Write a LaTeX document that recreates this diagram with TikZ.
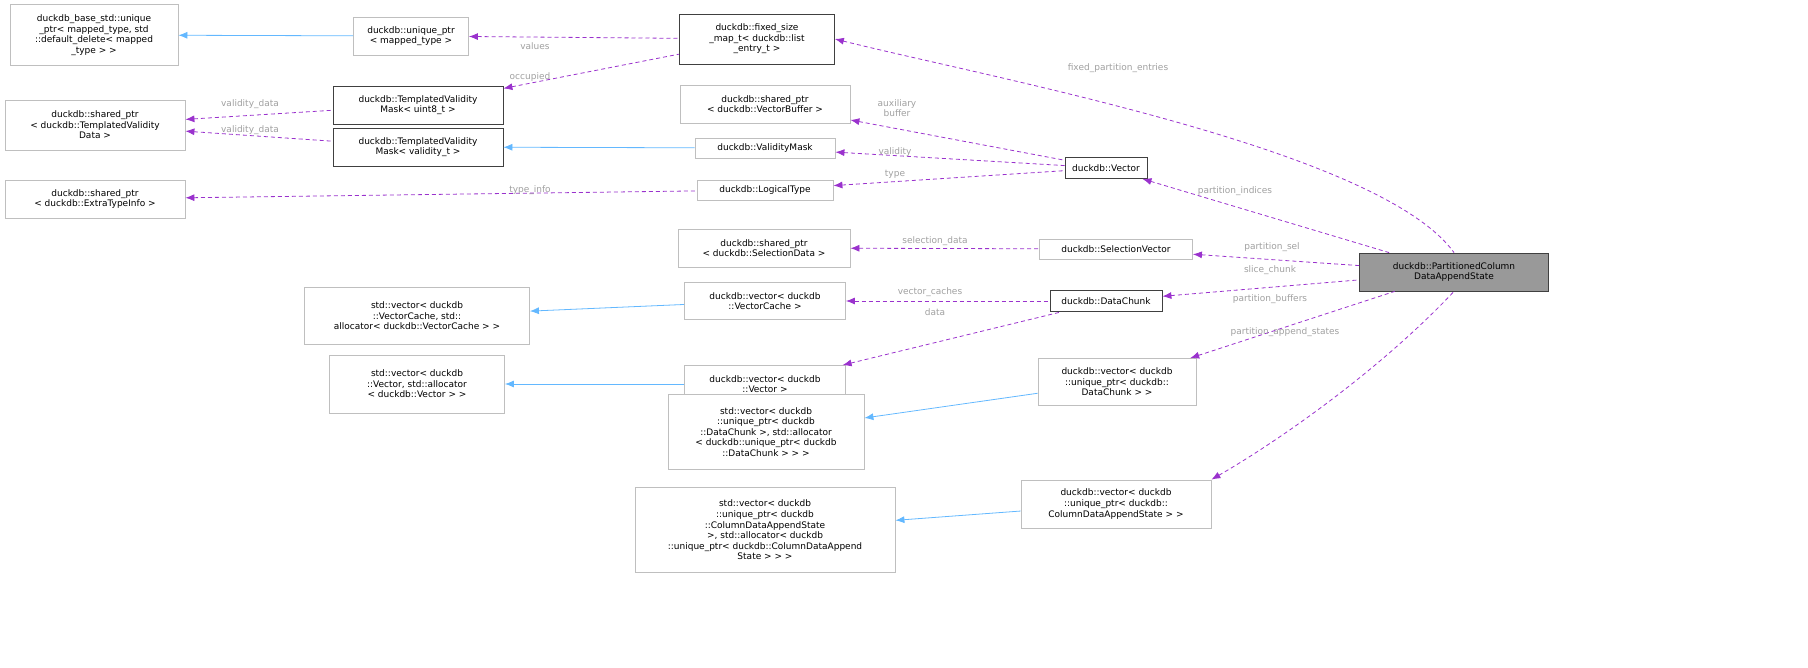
\documentclass[tikz,border=0pt]{standalone}
\usepackage{fontspec}
\setmainfont{DejaVu Sans}
\usetikzlibrary{arrows.meta}
\definecolor{edgeP}{HTML}{9A32CD}
\definecolor{edgeB}{HTML}{63B8FF}
\definecolor{lblc}{HTML}{A0A0A0}
\definecolor{boxg}{HTML}{BFBFBF}
\definecolor{boxd}{HTML}{404040}
\tikzset{
 box/.style={draw=boxg,line width=0.8pt,align=center,inner sep=0pt,font=\fontsize{9}{10.6}\selectfont,fill=white},
 dbox/.style={box,draw=boxd},
 mbox/.style={box,draw=boxd,fill=black!40},
 use/.style={draw=edgeP,dashed,dash pattern=on 4pt off 3pt,line width=0.8pt,{Latex[length=9pt,width=7pt]}-},
 inh/.style={draw=edgeB,line width=0.8pt,{Latex[length=9pt,width=7pt]}-},
 lbl/.style={text=lblc,font=\fontsize{9}{10.6}\selectfont,align=center,inner sep=1pt}
}
\begin{document}
\begin{tikzpicture}[x=1pt,y=-1pt]
\useasboundingbox (0,0) rectangle (1808,668);
\node[box,minimum width=168,minimum height=61] (n1) at (94,35) {duckdb\_base\_std::unique\\\_ptr< mapped\_type, std\\::default\_delete< mapped\\\_type > >};
\node[box,minimum width=115,minimum height=38] (n2) at (411,36) {duckdb::unique\_ptr\\< mapped\_type >};
\node[dbox,minimum width=155,minimum height=50] (n3) at (757,39) {duckdb::fixed\_size\\\_map\_t< duckdb::list\\\_entry\_t >};
\node[dbox,minimum width=170,minimum height=38] (n4) at (418,105) {duckdb::TemplatedValidity\\Mask< uint8\_t >};
\node[box,minimum width=180,minimum height=50] (n5) at (95,125) {duckdb::shared\_ptr\\< duckdb::TemplatedValidity\\Data >};
\node[dbox,minimum width=170,minimum height=38] (n6) at (418,147) {duckdb::TemplatedValidity\\Mask< validity\_t >};
\node[box,minimum width=180,minimum height=38] (n7) at (95,199) {duckdb::shared\_ptr\\< duckdb::ExtraTypeInfo >};
\node[box,minimum width=170,minimum height=38] (n8) at (765,104) {duckdb::shared\_ptr\\< duckdb::VectorBuffer >};
\node[box,minimum width=140,minimum height=20] (n9) at (765,148) {duckdb::ValidityMask};
\node[box,minimum width=136,minimum height=20] (n10) at (765,190) {duckdb::LogicalType};
\node[dbox,minimum width=82,minimum height=21] (n11) at (1106,168) {duckdb::Vector};
\node[box,minimum width=172,minimum height=38] (n12) at (764,248) {duckdb::shared\_ptr\\< duckdb::SelectionData >};
\node[box,minimum width=153,minimum height=20] (n13) at (1116,249) {duckdb::SelectionVector};
\node[mbox,minimum width=189,minimum height=38] (n14) at (1454,272) {duckdb::PartitionedColumn\\DataAppendState};
\node[box,minimum width=225,minimum height=57] (n15) at (417,316) {std::vector< duckdb\\::VectorCache, std::\\allocator< duckdb::VectorCache > >};
\node[box,minimum width=161,minimum height=37] (n16) at (765,301) {duckdb::vector< duckdb\\::VectorCache >};
\node[dbox,minimum width=112,minimum height=21] (n17) at (1106,301) {duckdb::DataChunk};
\node[box,minimum width=175,minimum height=58] (n18) at (417,384) {std::vector< duckdb\\::Vector, std::allocator\\< duckdb::Vector > >};
\node[box,minimum width=161,minimum height=37] (n19) at (765,384) {duckdb::vector< duckdb\\::Vector >};
\node[box,minimum width=158,minimum height=47] (n20) at (1117,382) {duckdb::vector< duckdb\\::unique\_ptr< duckdb::\\DataChunk > >};
\node[box,minimum width=196,minimum height=75] (n21) at (766,432) {std::vector< duckdb\\::unique\_ptr< duckdb\\::DataChunk >, std::allocator\\< duckdb::unique\_ptr< duckdb\\::DataChunk > > >};
\node[box,minimum width=190,minimum height=48] (n22) at (1116,504) {duckdb::vector< duckdb\\::unique\_ptr< duckdb::\\ColumnDataAppendState > >};
\node[box,minimum width=260,minimum height=85] (n23) at (765,530) {std::vector< duckdb\\::unique\_ptr< duckdb\\::ColumnDataAppendState\\ >, std::allocator< duckdb\\::unique\_ptr< duckdb::ColumnDataAppend\\State > > >};
% inheritance
\draw[inh] (n1) -- (n2);
\draw[inh] (n6) -- (n9);
\draw[inh] (n15) -- (n16);
\draw[inh] (n18) -- (n19);
\draw[inh] (n21) -- (n20);
\draw[inh] (n23) -- (n22);
% usage
\draw[use] (n2) -- (n3);
\draw[use] (n4) -- (n3);
\draw[use] (n5) -- (n4);
\draw[use] (n5) -- (n6);
\draw[use] (n8) -- (n11);
\draw[use] (n9) -- (n11);
\draw[use] (n10) -- (n11);
\draw[use] (n7) -- (n10);
\draw[use] (n3.east) .. controls (1000,80) and (1380,150) .. (n14.north);
\draw[use] (n11) -- (n14);
\draw[use] (n13) -- (n14);
\draw[use] (n12) -- (n13);
\draw[use] (n17) -- (n14);
\draw[use] (n16) -- (n17);
\draw[use] (n19) -- (n17);
\draw[use] (n20) -- (n14);
\draw[use] (n22.north east) .. controls (1280,440) and (1380,370) .. (n14.south);
% labels
\node[lbl] at (535,46) {values};
\node[lbl] at (530,77) {occupied};
\node[lbl] at (250,104) {validity\_data};
\node[lbl] at (250,130) {validity\_data};
\node[lbl] at (897,108) {auxiliary\\buffer};
\node[lbl] at (895,152) {validity};
\node[lbl] at (895,174) {type};
\node[lbl] at (530,190) {type\_info};
\node[lbl] at (1118,68) {fixed\_partition\_entries};
\node[lbl] at (1235,191) {partition\_indices};
\node[lbl] at (1272,247) {partition\_sel};
\node[lbl] at (935,241) {selection\_data};
\node[lbl] at (1270,270) {slice\_chunk};
\node[lbl] at (930,292) {vector\_caches};
\node[lbl] at (935,312) {data};
\node[lbl] at (1270,299) {partition\_buffers};
\node[lbl] at (1285,332) {partition\_append\_states};
\end{tikzpicture}
\end{document}
